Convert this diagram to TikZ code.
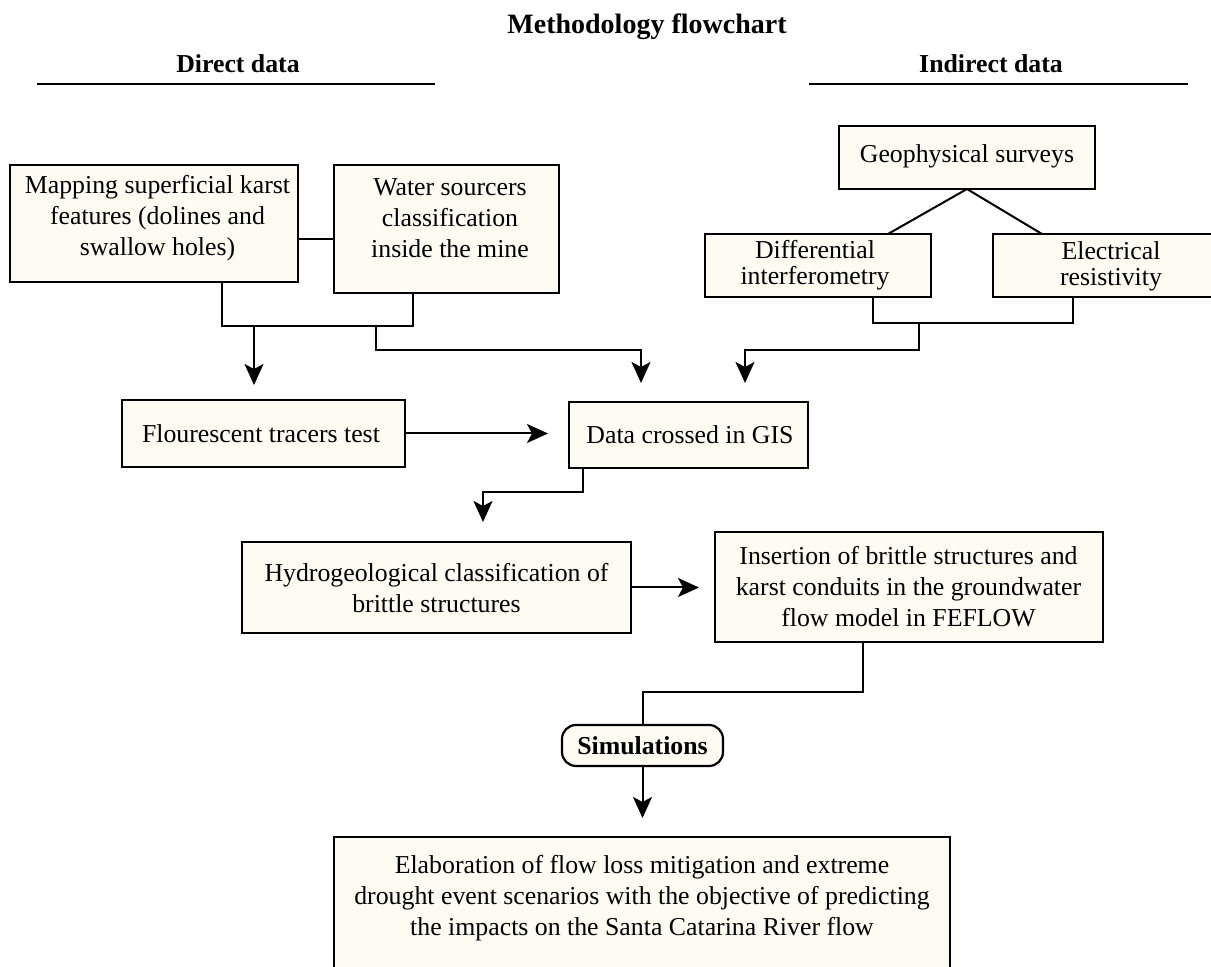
\documentclass[tikz,border=0pt]{standalone}
\usepackage{fontspec}
\setmainfont{Liberation Serif}
\usetikzlibrary{arrows.meta}
\definecolor{cream}{RGB}{254,251,242}
\begin{document}
\begin{tikzpicture}[x=0.5pt,y=-0.5pt,
  box/.style={draw, line width=1.1pt, fill=cream, inner sep=0pt, outer sep=0pt},
  txt/.style={align=center, inner sep=0pt, font=\fontsize{12.9pt}{15.5pt}\selectfont},
  txtt/.style={align=center, inner sep=0pt, font=\fontsize{12.9pt}{13pt}\selectfont},
  head/.style={inner sep=0pt, font=\fontsize{12.9pt}{15.5pt}\selectfont\bfseries},
  con/.style={line width=1pt},
  arr/.style={con, -{Stealth[length=10.5pt,width=9.5pt,inset=2.5pt]}},
  hline/.style={line width=1.35pt}]
\useasboundingbox (0,0) rectangle (1211,967);
\clip (0,0) rectangle (1211,967);

% headings
\node[head, font=\fontsize{14pt}{16pt}\selectfont\bfseries] (title) at (647,27) {Methodology flowchart};
\node[head] (direct) at (238,64) {Direct data};
\node[head] (indirect) at (991,64) {Indirect data};
\draw[hline] (37,84) -- (435,84);
\draw[hline] (809,84) -- (1188,84);

% boxes
\node[box, minimum width=144pt, minimum height=58.5pt] (map) at (154,223.5) {};
\node[txt] (maptxt) at (157.5,218.5) {Mapping superficial karst\\features (dolines and\\swallow holes)};
\node[box, minimum width=112.5pt, minimum height=64pt] (water) at (446.5,229) {};
\node[txt] (watertxt) at (450,218) {Water sourcers\\classification\\inside the mine};
\node[box, minimum width=141.5pt, minimum height=33.5pt] (flour) at (263.5,433.5) {};
\node[txt] (flourtxt) at (261,434) {Flourescent tracers test};
\node[box, minimum width=119.5pt, minimum height=33pt] (gis) at (688.5,435) {};
\node[txt] (gistxt) at (690,435) {Data crossed in GIS};
\node[box, minimum width=128pt, minimum height=31.5pt] (geo) at (967,157.5) {};
\node[txt] (geotxt) at (967,156) {Geophysical surveys};
\node[box, minimum width=113pt, minimum height=31.5pt] (diff) at (818,265.5) {};
\node[txtt] (difftxt) at (815,265.5) {Differential\\interferometry};
\node[box, minimum width=118pt, minimum height=31.5pt] (elec) at (1111,265.5) {};
\node[txtt] (electxt) at (1111,266) {Electrical\\resistivity};
\node[box, minimum width=194.5pt, minimum height=45.5pt] (hydro) at (436.5,587.5) {};
\node[txt] (hydrotxt) at (436.5,588.5) {Hydrogeological classification of\\brittle structures};
\node[box, minimum width=194pt, minimum height=55pt] (ins) at (909,587) {};
\node[txt] (instxt) at (908.5,586.5) {Insertion of brittle structures and\\karst conduits in the groundwater\\flow model in FEFLOW};
\node[box, rounded corners=7pt, minimum width=80.5pt, minimum height=20.5pt, font=\fontsize{12.9pt}{15.5pt}\selectfont\bfseries] (sim) at (642.5,745.5) {Simulations};
\node[box, minimum width=308pt, minimum height=76.5pt] (final) at (642,913.5) {};
\node[txt] (finaltxt) at (642,898.5) {Elaboration of flow loss mitigation and extreme\\drought event scenarios with the objective of predicting\\the impacts on the Santa Catarina River flow};

% connector coordinates
\coordinate (m1) at (0,239);
\coordinate (a1) at (222,326);
\coordinate (a2) at (413,326);
\coordinate (a3) at (254,326);
\coordinate (a4) at (376,326);
\coordinate (a5) at (641,350);
\coordinate (b1) at (873,323);
\coordinate (b2) at (1073,323);
\coordinate (b3) at (919,323);
\coordinate (b4) at (745,350);
\coordinate (g1) at (888,0);
\coordinate (g2) at (1042,0);
\coordinate (c1) at (583,492);
\coordinate (c2) at (483,492);
\coordinate (d1) at (863,692);

% connectors
\draw[con] (map.east |- m1) -- (water.west |- m1);
\draw[con] (map.south -| a1) -- (a1) -- (a2) -- (water.south -| a2);
\draw[arr, shorten >=7.5pt] (a3) -- (flour.north -| a3);
\draw[arr, shorten >=9.5pt] (a4) |- (a5) -- (gis.north -| a5);
\draw[con] (geo.south) -- (diff.north -| g1);
\draw[con] (geo.south) -- (elec.north -| g2);
\draw[con] (diff.south -| b1) -- (b1) -- (b2) -- (elec.south -| b2);
\draw[arr, shorten >=9.5pt] (b3) |- (b4) -- (gis.north -| b4);
\draw[arr, shorten >=10.5pt] (flour.east) -- (flour.east -| gis.west);
\draw[arr, shorten >=10pt] (gis.south -| c1) -- (c1) -- (c2) -- (hydro.north -| c2);
\draw[arr, shorten >=8pt] (hydro.east) -- (hydro.east -| ins.west);
\draw[con] (ins.south -| d1) |- (sim.north |- d1) -- (sim.north);
\draw[arr, shorten >=9.5pt] (sim.south) -- (final.north -| sim.south);
\end{tikzpicture}
\end{document}
